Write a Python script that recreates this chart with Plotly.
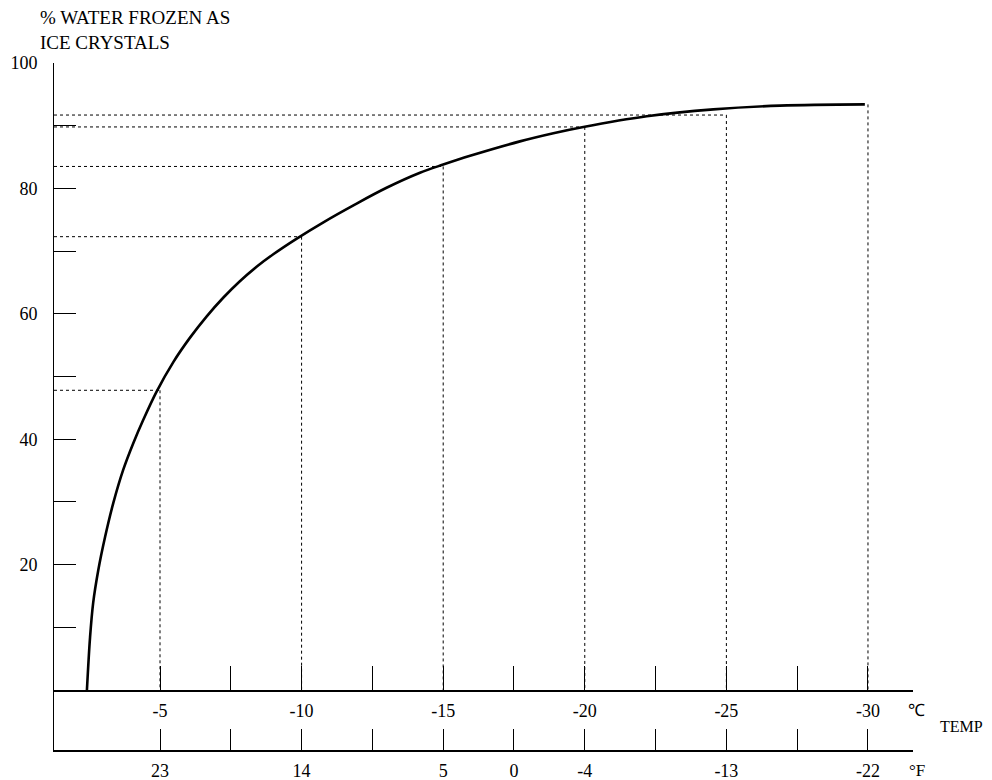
import plotly.graph_objects as go

# ---- data ----
curve_temp_c = [-2.42, -2.53, -2.64, -2.82, -3.06, -3.35, -3.70, -4.06, -4.41, -4.88,
                -5.47, -6.06, -6.65, -7.24, -7.82, -8.41, -9.0, -9.83, -10.77, -11.83,
                -13.0, -14.18, -15.0, -15.95, -17.71, -18.89, -19.95, -22.19,
                -24.54, -26.89, -29.89]
curve_pct = [0, 8.4, 13.9, 19.1, 24.4, 29.8, 35.1, 39.4, 43.1, 47.6,
             52.3, 56.2, 59.6, 62.6, 65.2, 67.5, 69.5, 72.0, 74.6, 77.3,
             80.1, 82.5, 83.8, 85.2, 87.5, 88.8, 89.8, 91.5,
             92.6, 93.2, 93.4]

ref_temp_c = [-5, -10, -15, -20, -25, -30]
ref_pct = [47.8, 72.3, 83.5, 89.8, 91.7, 93.4]
ref_has_hline = [True, True, True, True, True, False]

c_tickvals = [-5, -7.5, -10, -12.5, -15, -17.5, -20, -22.5, -25, -27.5, -30]
c_ticktext = ["-5", "", "-10", "", "-15", "", "-20", "", "-25", "", "-30"]
f_ticktext = ["23", "", "14", "", "5", "0", "-4", "", "-13", "", "-22"]

y_tickvals = [10, 20, 30, 40, 50, 60, 70, 80, 90, 100]
y_ticktext = ["", "20", "", "40", "", "60", "", "80", "", "100"]

x_range = [-1.257, -31.59]

FONT = "Liberation Serif"

fig = go.Figure()

# dotted guide lines
vx, vy, hx, hy = [], [], [], []
for t, p, h in zip(ref_temp_c, ref_pct, ref_has_hline):
    vx += [t, t, None]
    vy += [p, 0, None]
    if h:
        hx += [x_range[0], t, None]
        hy += [p, p, None]

fig.add_trace(go.Scatter(x=vx, y=vy, mode="lines", xaxis="x", yaxis="y",
                         line=dict(color="black", width=1, dash="dot"),
                         hoverinfo="skip", showlegend=False))
fig.add_trace(go.Scatter(x=hx, y=hy, mode="lines", xaxis="x", yaxis="y",
                         line=dict(color="black", width=1, dash="dot"),
                         hoverinfo="skip", showlegend=False))

# main curve
fig.add_trace(go.Scatter(x=curve_temp_c, y=curve_pct, mode="lines",
                         xaxis="x", yaxis="y",
                         line=dict(color="black", width=2.6, shape="spline", smoothing=1.0),
                         showlegend=False))

# dummy trace so the lower (°F) subplot exists
fig.add_trace(go.Scatter(x=[None], y=[None], xaxis="x2", yaxis="y2",
                         showlegend=False, hoverinfo="skip"))

low_frac = 60 / 687

fig.update_layout(
    template="none",
    width=992, height=780,
    margin=dict(l=46, r=87, t=55, b=38, pad=0, autoexpand=False),
    paper_bgcolor="white", plot_bgcolor="white",
    font=dict(family=FONT, size=18, color="black"),
    showlegend=False,
    xaxis=dict(domain=[0, 1], anchor="y", range=x_range, showgrid=False, zeroline=False,
               automargin=False,
               showline=True, linecolor="black", linewidth=1.5,
               ticks="inside", ticklen=24, tickwidth=1.3, tickcolor="black",
               tickmode="array", tickvals=c_tickvals, ticktext=c_ticktext,
               ticklabelstandoff=4, tickfont=dict(family=FONT, size=18, color="black")),
    yaxis=dict(domain=[low_frac, 1], anchor="x", range=[0, 100], showgrid=False,
               zeroline=False, automargin=False,
               showline=True, linecolor="black", linewidth=1,
               ticks="inside", ticklen=22, tickwidth=1.2, tickcolor="black",
               tickmode="array", tickvals=y_tickvals, ticktext=y_ticktext,
               ticklabelstandoff=12, tickfont=dict(family=FONT, size=18, color="black")),
    xaxis2=dict(domain=[0, 1], anchor="y2", matches="x", range=x_range, showgrid=False,
                zeroline=False, automargin=False,
                showline=True, linecolor="black", linewidth=1.5,
                ticks="inside", ticklen=21, tickwidth=1.3, tickcolor="black",
                tickmode="array", tickvals=c_tickvals, ticktext=f_ticktext,
                ticklabelstandoff=4, tickfont=dict(family=FONT, size=18, color="black")),
    yaxis2=dict(domain=[0, low_frac], anchor="x2", range=[0, 1], showgrid=False,
                zeroline=False, automargin=False,
                showline=True, linecolor="black", linewidth=1,
                ticks="", showticklabels=False),
    annotations=[
        dict(text="% WATER FROZEN AS", xref="paper", yref="paper",
             x=-0.019, y=(750 - 18) / 687, xanchor="left", yanchor="middle",
             showarrow=False, font=dict(family=FONT, size=19)),
        dict(text="ICE CRYSTALS", xref="paper", yref="paper",
             x=-0.019, y=(750 - 42) / 687, xanchor="left", yanchor="middle",
             showarrow=False, font=dict(family=FONT, size=19)),
        dict(text="℃", xref="paper", yref="paper",
             x=(906 - 54) / 859, y=(750 - 710) / 687, xanchor="left", yanchor="middle",
             showarrow=False, font=dict(family=FONT, size=17)),
        dict(text="TEMP", xref="paper", yref="paper",
             x=(938 - 54) / 859, y=(750 - 726) / 687, xanchor="left", yanchor="middle",
             showarrow=False, font=dict(family=FONT, size=16)),
        dict(text="°F", xref="paper", yref="paper",
             x=(907 - 54) / 859, y=(750 - 770) / 687, xanchor="left", yanchor="middle",
             showarrow=False, font=dict(family=FONT, size=17)),
    ],
)

fig.write_html("out.html")
